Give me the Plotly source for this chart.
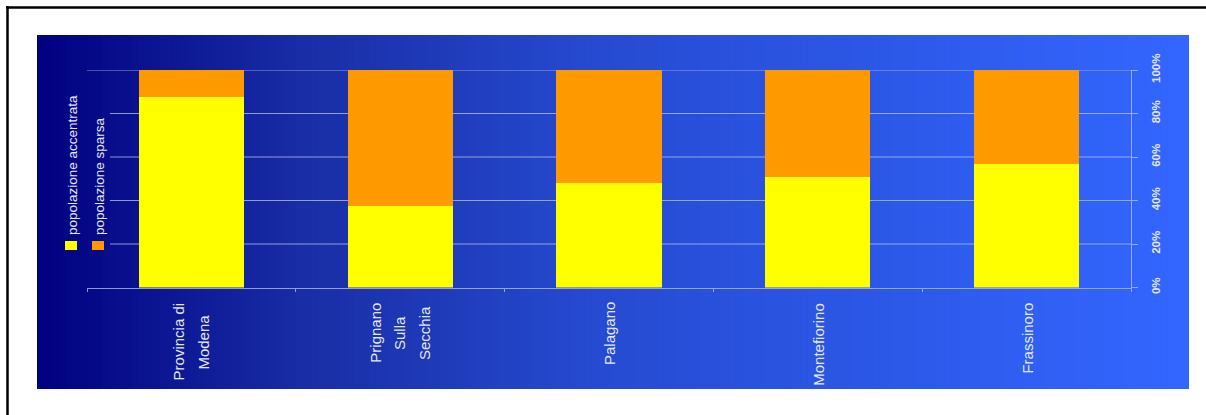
import plotly.graph_objects as go

# ---- data ----
categories = ["Provincia di Modena", "Prignano Sulla Secchia", "Palagano", "Montefiorino", "Frassinoro"]
category_lines = [["Provincia di", "Modena"], ["Prignano", "Sulla", "Secchia"], ["Palagano"], ["Montefiorino"], ["Frassinoro"]]
accentrata = [87.6, 37.6, 48.2, 50.9, 56.9]
sparsa = [12.4, 62.4, 51.8, 49.1, 43.1]
series_names = ["popolazione accentrata", "popolazione sparsa"]
y_ticks = [0, 20, 40, 60, 80, 100]

W, H = 1206, 415
FONT = "Liberation Sans, Arial, Helvetica, sans-serif"
YELLOW = "#FFFF00"
ORANGE = "#FF9900"
TXT = "#E4E6F2"
GRID = "rgba(175,188,235,0.8)"
CAT_SIZE = 15
LINE_GAP = 25

# approximate Arial advance widths (per 1000 em) used to centre multi-line labels
AW = {"P": 667, "r": 333, "o": 556, "v": 500, "i": 222, "n": 556, "c": 500, "a": 556, " ": 278,
      "d": 556, "M": 833, "e": 556, "g": 556, "S": 667, "u": 556, "l": 222, "h": 556, "F": 611,
      "s": 500, "f": 278, "t": 278}


def text_w(s, size):
    return sum(AW.get(ch, 556) for ch in s) * size / 1000.0


fig = go.Figure()
fig.add_trace(go.Bar(x=categories, y=accentrata, name=series_names[0],
                     marker=dict(color=YELLOW, line=dict(width=0))))
fig.add_trace(go.Bar(x=categories, y=sparsa, name=series_names[1],
                     marker=dict(color=ORANGE, line=dict(width=0))))


def px_x(p):
    return p / W


def px_y(p):
    return (H - p) / H


X_DOM = [px_x(87), px_x(1131)]
shapes = []
# gradient background panel (blue)
stops = [(0.0, (0, 0, 128)), (0.23, (25, 45, 165)), (0.49, (38, 75, 210)), (1.0, (51, 102, 255))]


def grad(t):
    for (t0, c0), (t1, c1) in zip(stops[:-1], stops[1:]):
        if t0 <= t <= t1:
            f = (t - t0) / (t1 - t0)
            return tuple(round(a + (b - a) * f) for a, b in zip(c0, c1))
    return stops[-1][1]


x0p, x1p, y0p, y1p = 37, 1189, 35, 389
n = 160
step = (x1p - x0p) / n
for i in range(n):
    r, g, b = grad((i + 0.5) / n)
    shapes.append(dict(type="rect", xref="paper", yref="paper", layer="below",
                       x0=px_x(x0p + i * step), x1=px_x(min(x1p, x0p + (i + 1) * step + 0.8)),
                       y0=px_y(y1p), y1=px_y(y0p),
                       fillcolor=f"rgb({r},{g},{b})", line=dict(width=0)))
# horizontal gridlines (the legend block hides their left end, except at the top)
for v in y_ticks[1:]:
    shapes.append(dict(type="line", xref="paper", yref="y", layer="below",
                       x0=X_DOM[0] if v == y_ticks[-1] else px_x(110), x1=X_DOM[1], y0=v, y1=v,
                       line=dict(color=GRID, width=1)))
# page border (top & left)
shapes.append(dict(type="line", xref="paper", yref="paper", x0=px_x(6), x1=1, y0=px_y(7.5), y1=px_y(7.5),
                   line=dict(color="black", width=2.5)))
shapes.append(dict(type="line", xref="paper", yref="paper", x0=px_x(7.5), x1=px_x(7.5), y0=0, y1=px_y(6),
                   line=dict(color="black", width=2.5)))
# legend swatches
shapes.append(dict(type="rect", xref="paper", yref="paper", x0=px_x(65), x1=px_x(77),
                   y0=px_y(250), y1=px_y(241), fillcolor=YELLOW, line=dict(width=0)))
shapes.append(dict(type="rect", xref="paper", yref="paper", x0=px_x(92), x1=px_x(104),
                   y0=px_y(250), y1=px_y(241), fillcolor=ORANGE, line=dict(width=0)))

annotations = []
for cat, lines in zip(categories, category_lines):
    maxw = max(text_w(s, CAT_SIZE) for s in lines)
    k = len(lines)
    for j, s in enumerate(lines):
        annotations.append(dict(x=cat, xref="x", y=0, yref="y", yanchor="top", xanchor="center",
                                xshift=(j - (k - 1) / 2) * LINE_GAP,
                                yshift=-13 - (maxw - text_w(s, CAT_SIZE)) / 2,
                                text=s, textangle=-90, showarrow=False,
                                font=dict(family=FONT, size=CAT_SIZE, color=TXT)))
for name, xp in zip(series_names, [72, 99]):
    annotations.append(dict(x=px_x(xp), xref="paper", y=px_y(237), yref="paper",
                            xanchor="center", yanchor="bottom", text=name, textangle=-90,
                            showarrow=False, font=dict(family=FONT, size=13.5, color=TXT)))

fig.update_layout(
    width=W, height=H,
    margin=dict(l=0, r=0, t=0, b=0, autoexpand=False),
    paper_bgcolor="white", plot_bgcolor="rgba(0,0,0,0)",
    barmode="stack", bargap=0.497,
    showlegend=False,
    shapes=shapes, annotations=annotations,
    xaxis=dict(domain=X_DOM, type="category", range=[-0.5, 4.5], automargin=False,
               showticklabels=False, showline=True, linecolor=GRID, linewidth=1,
               ticks="outside", tickson="boundaries", ticklen=3, tickcolor=GRID,
               showgrid=False, zeroline=False),
    yaxis=dict(domain=[px_y(287.5), px_y(70)], range=[0, 100], side="right", automargin=False,
               tickvals=y_ticks, ticktext=[f"{v}%" for v in y_ticks], tickangle=-90,
               tickfont=dict(family=FONT, size=11.5, color=TXT, weight="bold"),
               ticklabelstandoff=8,
               showline=True, linecolor=GRID, linewidth=1,
               ticks="outside", ticklen=6, tickcolor=GRID,
               showgrid=False, zeroline=False),
)

fig.write_html("out.html")
